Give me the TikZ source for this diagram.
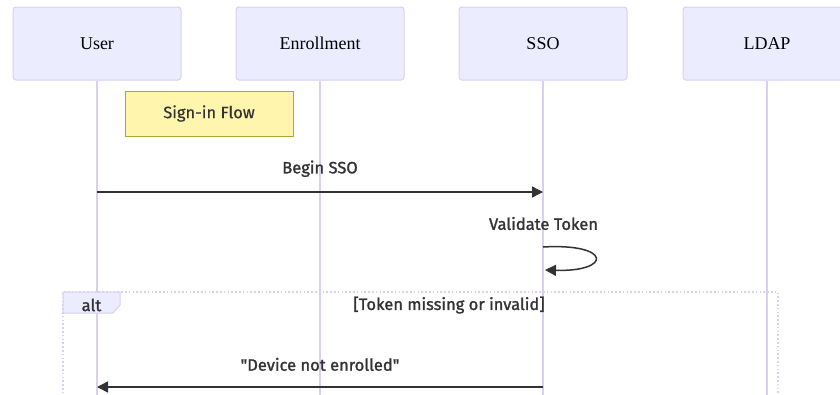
\documentclass[tikz,border=0pt]{standalone}
\usepackage{fontspec}
\setmainfont{Liberation Serif}
\setsansfont{Fira Sans}
\newfontfamily\msgfont{Fira Sans}[FakeBold=1.4]
\newfontfamily\notefont{Fira Sans}[FakeBold=0.5]
\usepackage{tikz}
\usetikzlibrary{arrows.meta}
\definecolor{actfill}{HTML}{ECECFF}
\definecolor{actline}{HTML}{DACEF3}
\definecolor{notefill}{HTML}{FFF5AD}
\definecolor{noteline}{HTML}{AAAA33}
\definecolor{txt}{HTML}{333333}
\tikzset{
  actor/.style={draw=actline,fill=actfill,line width=1pt,rounded corners=3pt,minimum width=168pt,minimum height=73pt,font=\fontsize{18}{20}\selectfont,text=black},
  life/.style={draw=actline,line width=1.5pt},
  msg/.style={draw=txt,line width=1.5pt,-{Triangle[length=11pt,width=11pt]}},
  lbl/.style={text=txt,font=\msgfont\fontsize{16.5}{18}\selectfont},
  notebox/.style={draw=noteline,fill=notefill,line width=1pt,minimum width=168pt,minimum height=45pt,text=txt,font=\notefont\fontsize{16.5}{18}\selectfont},
  altline/.style={draw=actline,line width=1.3pt,dash pattern=on 1.6pt off 2.2pt}
}
\begin{document}
\begin{tikzpicture}[x=1pt,y=-1pt]
\useasboundingbox (0,0) rectangle (840,394);
\clip (0,0) rectangle (840,394);
% participants
\node[actor] (user) at (97,43.5) {User};
\node[actor] (enroll) at (320,43.5) {Enrollment};
\node[actor] (sso) at (543,43.5) {SSO};
\node[actor] (ldap) at (767,43.5) {LDAP};
\foreach \p in {user,enroll,sso,ldap} {\draw[life] (\p.south) -- (\p.south |- 0,400);}
% note
\node[notebox] (flow) at (209,113.5) {Sign-in Flow};
% messages
\coordinate (b1) at (user.south |- 0,192);
\coordinate (b2) at (sso.south |- 0,192);
\draw[msg] (b1) -- node[lbl,above=11pt] (begin) {Begin SSO} (b2);
\coordinate (v1) at (543,247);
\coordinate (v2) at (545,270);
\node[lbl] (valid) at (543.5,223.5) {Validate Token};
\draw[msg] (v1) .. controls (612,243) and (612,272) .. (v2);
% alt block
\draw[altline] (63,420) -- (63,292) -- (778,292) -- (778,420);
\draw[draw=actline,fill=actfill,line width=1pt] (63,292) -- (120,292) -- (120,305) -- (113,313) -- (63,313) -- cycle;
\node[lbl] (alt) at (91.5,305) {alt};
\node[lbl] (cond) at (449,305) {[Token missing or invalid]};
\coordinate (d1) at (sso.south |- 0,387);
\coordinate (d2) at (user.south |- 0,387);
\draw[msg] (d1) -- node[lbl,above=12pt] (dev) {\textquotedbl Device not enrolled\textquotedbl} (d2);
\end{tikzpicture}
\end{document}
